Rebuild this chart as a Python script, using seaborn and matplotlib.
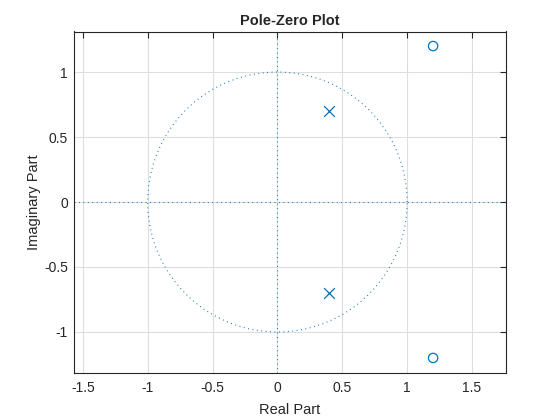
import numpy as np
import pandas as pd
import matplotlib
matplotlib.use("Agg")
import matplotlib.pyplot as plt
import seaborn as sns

# Pole / zero locations
zeros_re = [1.2, 1.2]
zeros_im = [1.2, -1.2]
poles_re = [0.4, 0.4]
poles_im = [0.7, -0.7]

x_ticks = [-1.5, -1, -0.5, 0, 0.5, 1, 1.5]
y_ticks = [-1, -0.5, 0, 0.5, 1]
x_lim = (-1.572, 1.762)
y_lim = (-1.312, 1.312)

blue = "#0072BD"


def main():
    sns.set_style("white")
    plt.rcParams["font.family"] = ["Liberation Sans", "DejaVu Sans"]

    fig = plt.figure(figsize=(5.6, 4.2), dpi=100)
    ax = fig.add_axes([73.5 / 560, 47.5 / 420, 432.5 / 560, 341 / 420])

    # unit circle and the real / imaginary axes, dotted like zplane
    theta = np.linspace(0, 2 * np.pi, 400)
    dots = (0, (0.8, 3.2))
    ax.plot(np.cos(theta), np.sin(theta), color=blue, lw=0.8, linestyle=dots, zorder=2)
    ax.plot(x_lim, [0, 0], color=blue, lw=0.8, linestyle=dots, zorder=2)
    ax.plot([0, 0], y_lim, color=blue, lw=0.8, linestyle=dots, zorder=2)

    zeros = pd.DataFrame({"re": zeros_re, "im": zeros_im})
    poles = pd.DataFrame({"re": poles_re, "im": poles_im})
    sns.scatterplot(data=zeros, x="re", y="im", ax=ax, marker="o", s=45,
                    facecolors="none", edgecolor=blue, linewidth=0.9, zorder=3)
    sns.scatterplot(data=poles, x="re", y="im", ax=ax, marker="x", s=60,
                    color=blue, linewidth=0.9, zorder=3)

    ax.set_xlim(*x_lim)
    ax.set_ylim(*y_lim)
    ax.set_xticks(x_ticks)
    ax.set_yticks(y_ticks)
    ax.set_xticklabels([f"{t:g}" for t in x_ticks])
    ax.set_yticklabels([f"{t:g}" for t in y_ticks])
    ax.grid(True, color="#dedede", lw=0.8)
    ax.set_axisbelow(True)
    ax.tick_params(direction="in", length=4, width=0.8, top=True, right=True,
                   labelsize=10, colors="#262626")
    ax.tick_params(axis="x", pad=6)
    ax.tick_params(axis="y", pad=4)
    for sp in ax.spines.values():
        sp.set_color("#262626")
        sp.set_linewidth(0.8)

    ax.set_xlabel("Real Part", fontsize=10.5, color="#262626", labelpad=6)
    ax.set_ylabel("Imaginary Part", fontsize=10.5, color="#262626", labelpad=2)
    ax.set_title("Pole-Zero Plot", fontsize=10.5, fontweight="bold", pad=5)

    fig.savefig("out.png", dpi=100)


if __name__ == "__main__":
    main()
